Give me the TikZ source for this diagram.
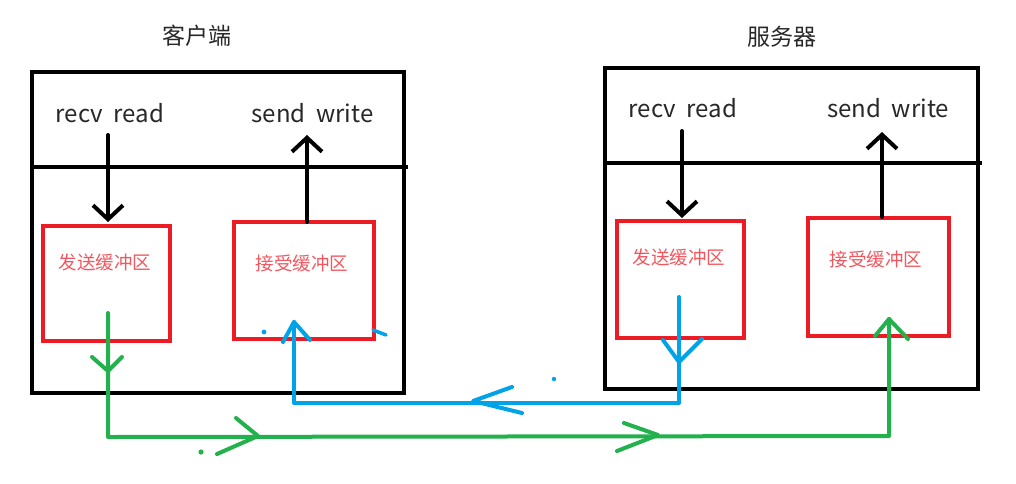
\documentclass[tikz,border=0pt]{standalone}
\usepackage{fontspec}
\setmainfont{Noto Sans CJK SC}
\usetikzlibrary{arrows.meta}
\definecolor{pred}{RGB}{237,28,36}
\definecolor{ptxt}{RGB}{240,88,96}
\definecolor{pblue}{RGB}{0,162,232}
\definecolor{pgreen}{RGB}{34,177,76}
\definecolor{ink}{RGB}{40,40,40}
\begin{document}
\begin{tikzpicture}[x=1pt,y=-1pt,
  frame/.style={draw=black, line width=4.5pt, rectangle, inner sep=0pt},
  buf/.style={draw=pred, line width=4.5pt, rectangle, inner sep=0pt},
  lbl/.style={text=ink, font=\fontsize{24}{28}\selectfont, inner sep=0pt, anchor=base},
  ttl/.style={text=ink, font=\fontsize{23}{28}\selectfont, inner sep=0pt},
  buftxt/.style={text=ptxt, font=\fontsize{18.5}{22}\selectfont, inner sep=0pt},
  barb/.style={-{Straight Barb[length=14pt,width=30pt]}},
  blk/.style={draw=black, line width=4pt, line cap=round, barb},
  divl/.style={draw=black, line width=4.5pt},
  grn/.style={draw=pgreen, line width=4pt, line cap=round, line join=round},
  blu/.style={draw=pblue, line width=4pt, line cap=round, line join=round},
]
\useasboundingbox (0,0) rectangle (1016,483);
\fill[white] (0,0) rectangle (1016,483);

% titles
\node[ttl] (ctitle) at (197,36) {客户端};
\node[ttl] (stitle) at (782,37) {服务器};

% outer frames
\node[frame, minimum width=372pt, minimum height=321pt] (cframe) at (218,232.5) {};
\node[frame, minimum width=373pt, minimum height=321pt] (sframe) at (791.5,228.5) {};
\coordinate (cdl) at (32,167);
\coordinate (cdr) at (408,167);
\coordinate (sdl) at (605,163);
\coordinate (sdr) at (982,163);
\draw[divl] (cdl) -- (cdr);
\draw[divl] (sdl) -- (sdr);

% api labels
\node[lbl] (crecv) at (110,122) {recv\hspace{0.45em}read};
\node[lbl] (csend) at (312.5,122) {send\hspace{0.45em}write};
\node[lbl] (srecv) at (683,117) {recv\hspace{0.45em}read};
\node[lbl] (ssend) at (888,117) {send\hspace{0.45em}write};

% buffers
\node[buf, minimum width=127pt, minimum height=115pt] (cs) at (106.5,283.5) {};
\node[buf, minimum width=140pt, minimum height=117pt] (cr) at (304,280.5) {};
\node[buf, minimum width=127pt, minimum height=117pt] (ss) at (680.5,279.5) {};
\node[buf, minimum width=141pt, minimum height=118pt] (sr) at (878.5,277) {};
\node[buftxt] (cst) at (105,262) {发送缓冲区};
\node[buftxt] (crt) at (302,263) {接受缓冲区};
\node[buftxt] (sst) at (679,257) {发送缓冲区};
\node[buftxt] (srt) at (876,259) {接受缓冲区};

% black arrows
\coordinate (a1s) at (108,135);  \coordinate (a1e) at (108,222);
\coordinate (a2s) at (307,222);  \coordinate (a2e) at (307,135);
\coordinate (a3s) at (682,131);  \coordinate (a3e) at (682,218);
\coordinate (a4s) at (882,217);  \coordinate (a4e) at (882,132);
\draw[blk] (a1s) -- (a1e);
\draw[blk] (a2s) -- (a2e);
\draw[blk] (a3s) -- (a3e);
\draw[blk] (a4s) -- (a4e);

% green path: client send buffer -> server receive buffer
\coordinate (g0) at (108,313);
\coordinate (g1) at (108,437);
\coordinate (g2) at (889,436);
\coordinate (g3) at (889,319);
\draw[grn] (g0) -- (g1) -- (g2) -- (g3);
\draw[grn] (92,357) -- (108,371) -- (122,357);
\draw[grn] (236,418) -- (258,436) -- (217,454);
\draw[grn] (624,423) -- (658,435) -- (617,451);
\draw[grn] (875,336) -- (g3) -- (908,339);
\fill[pgreen] (201,452) circle (2.6pt);

% blue path: server send buffer -> client receive buffer
\coordinate (b0) at (679,297);
\coordinate (b1) at (679,403);
\coordinate (b2) at (294,403);
\coordinate (b3) at (294,322);
\draw[blu] (b0) -- (b1) -- (b2) -- (b3);
\draw[blu] (663,340) -- (679,362) -- (702,339);
\draw[blu] (512,387) -- (473,401) -- (522,413);
\draw[blu] (283,342) -- (b3) -- (310,340);
\fill[pblue] (264,332) circle (2.4pt);
\fill[pblue] (554,379) circle (2.2pt);
\draw[blu, line width=3.5pt] (373,330) -- (386,335);
\end{tikzpicture}
\end{document}
